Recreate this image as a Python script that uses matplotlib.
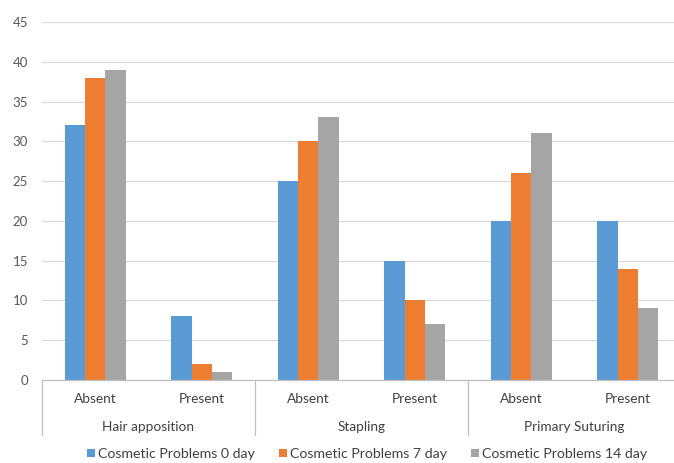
import matplotlib
matplotlib.use("Agg")
import matplotlib.pyplot as plt
from matplotlib.patches import Patch
import numpy as np

plt.rcParams['font.family'] = ['Lato', 'DejaVu Sans']

groups = ["Hair apposition", "Stapling", "Primary Suturing"]
subcats = ["Absent", "Present", "Absent", "Present", "Absent", "Present"]
series_names = ["Cosmetic Problems 0 day", "Cosmetic Problems 7 day", "Cosmetic Problems 14 day"]
day0 = [32, 8, 25, 15, 20, 20]
day7 = [38, 2, 30, 10, 26, 14]
day14 = [39, 1, 33, 7, 31, 9]
colors = ["#5B9BD5", "#ED7D31", "#A5A5A5"]
yticks = [0, 5, 10, 15, 20, 25, 30, 35, 40, 45]

W, H = 674, 463
fig = plt.figure(figsize=(W / 100, H / 100), dpi=100)
left, right, top, bottom = 42, 681, 22, 380
ax = fig.add_axes([left / W, 1 - bottom / H, (right - left) / W, (bottom - top) / H])

x = np.arange(len(subcats))
bw = 0.19
for i, (vals, c) in enumerate(zip([day0, day7, day14], colors)):
    ax.bar(x + (i - 1) * bw, vals, width=bw, color=c, zorder=3)

ax.set_xlim(-0.5, len(subcats) - 0.5)
ax.set_ylim(0, 45)
ax.set_yticks(yticks)
ax.tick_params(axis='y', length=0, pad=10, labelsize=9.5, labelcolor="#595959")
ax.set_xticks([])
ax.grid(axis='y', color="#D9D9D9", linewidth=0.9, zorder=0)
for s in ['top', 'right', 'left']:
    ax.spines[s].set_visible(False)
ax.spines['bottom'].set_color("#BFBFBF")
ax.spines['bottom'].set_linewidth(0.9)
ax.spines['bottom'].set_zorder(4)

trans = ax.get_xaxis_transform()
axh = (bottom - top)
def ay(py):
    return (bottom - py) / axh

for xi, lab in zip(x, subcats):
    ax.text(xi, ay(399), lab, transform=trans, ha='center', va='center',
            fontsize=9.8, color="#404040", clip_on=False)
for gi, g in enumerate(groups):
    ax.text(2 * gi + 0.5, ay(427), g, transform=trans, ha='center', va='center',
            fontsize=9.8, color="#404040", clip_on=False)
for sx in [-0.5, 1.5, 3.5, 5.5]:
    ax.plot([sx, sx], [0, ay(435)], transform=trans, color="#BFBFBF",
            linewidth=0.9, clip_on=False)

handles = [Patch(facecolor=c, edgecolor='none') for c in colors]
fig.legend(handles, series_names, loc='center', bbox_to_anchor=(367 / W, 1 - 454 / H),
           ncol=3, frameon=False, fontsize=10.2, handlelength=0.56, handleheight=0.56,
           handletextpad=0.2, columnspacing=1.7, labelcolor="#404040",
           borderpad=0, borderaxespad=0)

fig.savefig("out.png", dpi=100)
